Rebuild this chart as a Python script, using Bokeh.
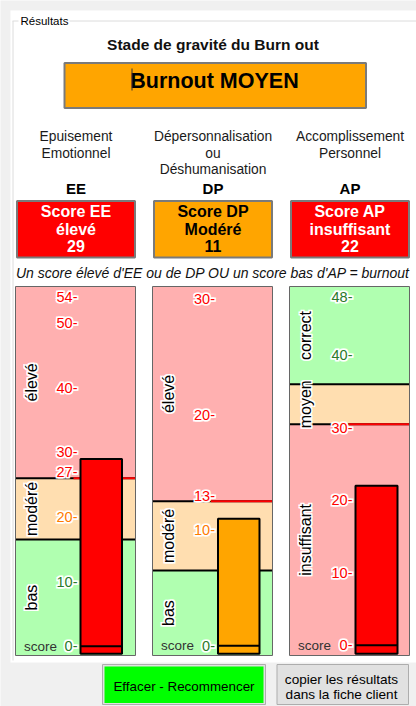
import math
from bokeh.plotting import figure
from bokeh.models import Range1d
from bokeh.core.properties import value
from bokeh.embed import file_html
from bokeh.resources import INLINE

# ---------------- data ----------------
codes = ["EE", "DP", "AP"]
names = [["Epuisement", "Emotionnel"],
         ["Dépersonnalisation", "ou", "Déshumanisation"],
         ["Accomplissement", "Personnel"]]
scores = [29, 11, 22]
levels = ["élevé", "Modéré", "insuffisant"]
ee_ticks = [0, 10, 20, 27, 30, 40, 50, 54]
dp_ticks = [0, 10, 13, 20, 30]
ap_ticks = [0, 10, 20, 30, 40, 48]
ee_cuts = [16.5, 26]
dp_cuts = [6.5, 12.5]
ap_cuts = [30.5, 36]
ee_zones = ["bas", "modéré", "élevé"]
dp_zones = ["bas", "modéré", "élevé"]
ap_zones = ["insuffisant", "moyen", "correct"]
ee_limits = [-1.45, 55.7]
dp_limits = [-0.85, 31.1]
ap_limits = [-1.4, 49.5]
verdict = "Burnout MOYEN"
title = "Stade de gravité du Burn out"
group_label = "Résultats"
rule = "Un score élevé d'EE ou de DP OU un score bas d'AP = burnout"
button1 = "Effacer - Recommencer"
button2 = ["copier les résultats", "dans la fiche client"]

# ---------------- styles ----------------
FONT = value("Liberation Sans")
PINK, PEACH, PALEGREEN = "#ffb0b0", "#ffdeb0", "#b0ffb0"
zone_fill = {"bas": PALEGREEN, "correct": PALEGREEN, "modéré": PEACH,
             "moyen": PEACH, "élevé": PINK, "insuffisant": PINK}
zone_text = {"bas": "#2a7a2a", "correct": "#2a7a2a", "modéré": "#ff7b00",
             "moyen": "#ff7b00", "élevé": "#ff0000", "insuffisant": "#ff0000"}
zone_bar = {"bas": "#00ff00", "correct": "#00ff00", "modéré": "#ffa500",
            "moyen": "#ffa500", "élevé": "#ff0000", "insuffisant": "#ff0000"}
level_fill = {"élevé": "#ff0000", "Modéré": "#ffa500", "insuffisant": "#ff0000"}
level_text = {"élevé": "white", "Modéré": "black", "insuffisant": "white"}

PANEL_X = [(15, 135), (152, 272), (289, 409)]
BAR_X = [(80, 121.5), (217.5, 259), (355, 397)]
PANEL_TOP, PANEL_BOT = 286, 655
BAR_BOT_PX = 653.3
FIG_W, FIG_H = 416, 706
HALO_OFFSETS = [(-1, -1), (1, -1), (-1, 1), (1, 1)]

panels = [
    ("EE", ee_ticks, ee_cuts, ee_zones, ee_limits, scores[0]),
    ("DP", dp_ticks, dp_cuts, dp_zones, dp_limits, scores[1]),
    ("AP", ap_ticks, ap_cuts, ap_zones, ap_limits, scores[2]),
]

p = figure(width=FIG_W, height=FIG_H, x_range=Range1d(0, FIG_W),
           y_range=Range1d(FIG_H, 0), output_backend="svg",
           toolbar_location=None, x_axis_type=None, y_axis_type=None,
           min_border=0, outline_line_color=None,
           background_fill_color="#f0f0f0", border_fill_color="#f0f0f0")
p.xgrid.visible = False
p.ygrid.visible = False

extra = {}
for name, ticks, cuts, zones, lim, sc in panels:
    u = (lim[1] - lim[0]) / (PANEL_BOT - PANEL_TOP)
    extra[name] = Range1d(lim[0] - (FIG_H - PANEL_BOT) * u,
                          lim[1] + PANEL_TOP * u)
p.extra_y_ranges = extra


def txt(x, y, t, size, color="black", style="normal", align="center",
        baseline="middle", angle=0.0, halo=False, yr="default"):
    common = dict(x=x, y=y, text=t, text_font=FONT,
                  text_font_size=f"{size}px", text_font_style=style,
                  text_align=align, text_baseline=baseline, angle=angle,
                  y_range_name=yr)
    if halo:
        for dx, dy in HALO_OFFSETS:
            p.text(text_color="white", text_outline_color="white",
                   x_offset=dx, y_offset=dy, **common)
    p.text(text_color=color, **common)


# ---------------- form background ----------------
p.quad(left=[10], right=[416], top=[10], bottom=[662], fill_color="white",
       line_color=None)
p.segment(x0=[12, 69, 12.5], y0=[20.5, 20.5, 20.5], x1=[18, 416, 12.5],
          y1=[20.5, 20.5, 660], line_color="#dcdcdc", line_width=1)
txt([20], [20.5], [group_label], 11.5, align="left")

# ---------------- header ----------------
txt([212.5], [44], [title], 15.5, style="bold", color="#111111")
p.quad(left=[64], right=[365.5], top=[62.5], bottom=[107.5],
       fill_color="#ffa500", line_color="#7a7a7a", line_width=2)
txt([214], [80], [verdict], 21.5, style="bold")
p.segment(x0=[131.5], y0=[68], x1=[131.5], y1=[90], line_color="#333333",
          line_width=1)

for i, (code, lines, sc, lev) in enumerate(zip(codes, names, scores, levels)):
    x0, x1 = PANEL_X[i]
    cx = (x0 + x1) / 2 + 0.5
    txt([cx] * len(lines), [136, 152.5, 168.5][:len(lines)], lines, 13.8,
        color="#1a1a1a")
    txt([cx], [188], [code], 15, style="bold")
    p.quad(left=[x0 + 1.5], right=[x1 - 0.5], top=[200.5], bottom=[257],
           fill_color=level_fill[lev], line_color="#7a7a7a", line_width=2)
    txt([cx] * 3, [211, 228.5, 245.5], [f"Score {code}", lev, str(sc)], 16,
        color=level_text[lev], style="bold")

txt([212.5], [272.5], [rule], 14, style="italic", color="#111111")

# ---------------- score panels ----------------
for i, (name, ticks, cuts, zones, lim, sc) in enumerate(panels):
    x0, x1 = PANEL_X[i]
    bx0, bx1 = BAR_X[i]
    edges = [lim[0]] + list(cuts) + [lim[1]]
    p.quad(left=[x0] * 3, right=[x1] * 3, bottom=edges[:-1], top=edges[1:],
           fill_color=[zone_fill[z] for z in zones], line_color=None,
           y_range_name=name)
    p.segment(x0=[x0] * 2, x1=[x1] * 2, y0=cuts, y1=cuts, line_color="black",
              line_width=2, y_range_name=name)
    # red threshold line next to the pink zone
    pink_idx = [k for k, z in enumerate(zones) if zone_fill[z] == PINK][0]
    red_cut = cuts[pink_idx - 1] if pink_idx > 0 else cuts[0]
    p.segment(x0=[bx0 - 7], x1=[x1], y0=[red_cut], y1=[red_cut],
              line_color="#ff0000", line_width=2, y_range_name=name)
    # zone labels (rotated)
    centers = [(a + b) / 2 for a, b in zip(edges[:-1], edges[1:])]
    txt([x0 + 16] * 3, centers, zones, 16, angle=math.pi / 2, halo=True,
        yr=name)
    # score bar
    u = (lim[1] - lim[0]) / (PANEL_BOT - PANEL_TOP)
    bar_bottom = lim[0] + (PANEL_BOT - BAR_BOT_PX) * u
    score_zone = zones[sum(1 for c in cuts if sc > c)]
    p.quad(left=[bx0], right=[bx1], bottom=[bar_bottom], top=[sc],
           fill_color=zone_bar[score_zone], line_color="black", line_width=2,
           y_range_name=name)
    p.segment(x0=[bx0], x1=[bx1], y0=[0], y1=[0], line_color="black",
              line_width=2, y_range_name=name)
    # tick labels
    tcols = [zone_text[zones[sum(1 for c in cuts if t > c)]] for t in ticks]
    txt([bx0 - 3] * len(ticks), ticks, [f"{t}-" for t in ticks], 14.5,
        color=tcols, align="right", halo=True, yr=name)
    txt([x0 + 25], [0], ["score"], 13.5, color="#333333", yr=name)
    # panel frame
    p.quad(left=[x0], right=[x1], top=[PANEL_TOP], bottom=[PANEL_BOT],
           fill_color=None, line_color="#666666", line_width=1)

# ---------------- buttons ----------------
p.quad(left=[102], right=[265], top=[664], bottom=[704], fill_color="#e1e1e1",
       line_color="#adadad", line_width=1)
p.quad(left=[104], right=[263], top=[666], bottom=[702.5], fill_color="#00ff00",
       line_color=None)
txt([183.5], [685.5], [button1], 13.4)
p.quad(left=[276.5], right=[408], top=[664], bottom=[704], fill_color="#e1e1e1",
       line_color="#adadad", line_width=1)
txt([341, 341], [679, 694], button2, 13.6)

open("out.html", "w").write(file_html(p, INLINE))
